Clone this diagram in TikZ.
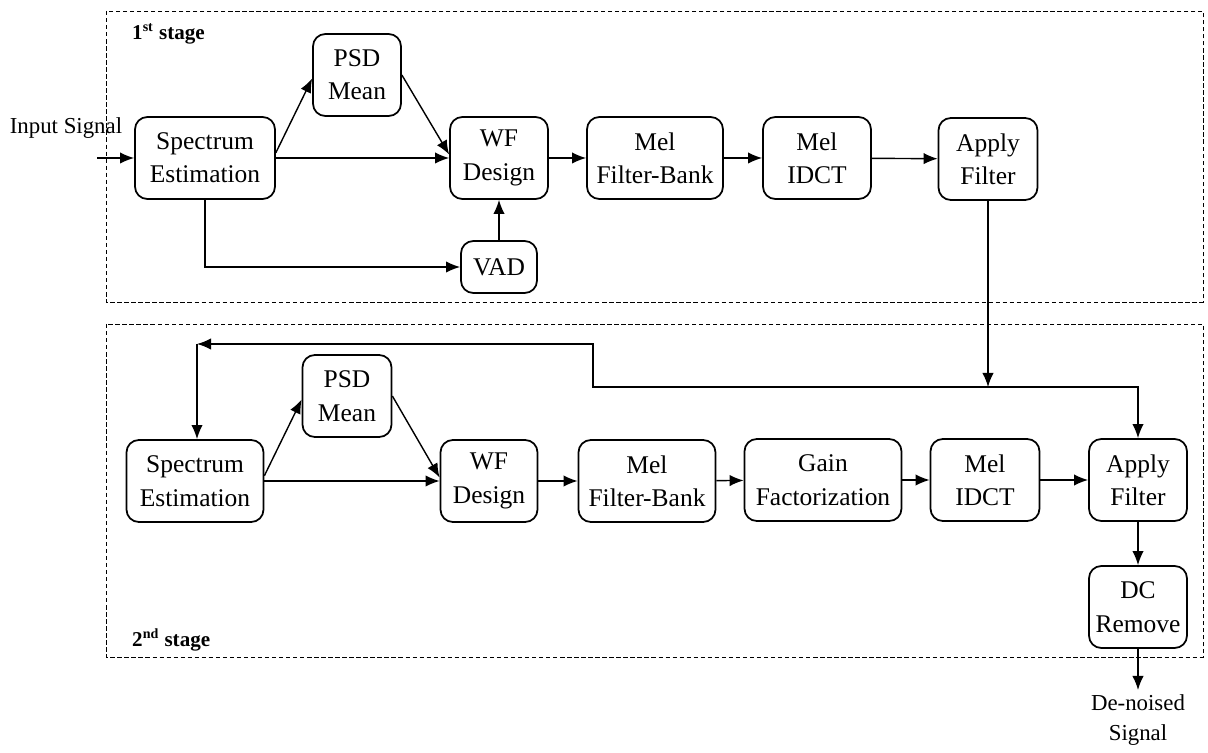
\documentclass[tikz,border=0pt]{standalone}
\usepackage{fontspec}
\setmainfont{Liberation Serif}
\usetikzlibrary{positioning,calc,arrows.meta}
\tikzset{
	box/.style={draw,line width=1pt,rounded corners=7pt,align=center,minimum height=1.64cm,inner sep=1pt,font=\fontsize{14.5}{19}\selectfont},
	stagebox/.style={draw,line width=0.4pt,dash pattern=on 2.5pt off 1.5pt},
	lbl/.style={align=center,font=\fontsize{13}{17}\selectfont},
	flow/.style={->,line width=0.8pt}
}

\begin{document}
\begin{tikzpicture}[x=0.02cm,y=-0.02cm,>={Latex[length=8pt,width=6.5pt]}]
	\useasboundingbox (0,0) rectangle (1208,753);
	% stage frames
	\draw[stagebox] (106,11) rectangle (1203,302);
	\draw[stagebox] (106,324) rectangle (1203,657);
	\node[anchor=west,font=\fontsize{12}{14}\selectfont\bfseries] (st1) at (126,34) {1\textsuperscript{st} stage};
	\node[anchor=west,font=\fontsize{12}{14}\selectfont\bfseries] (st2) at (126,640) {2\textsuperscript{nd} stage};
	
	% 1st stage
	\node[lbl] (insig) at (66,128) {Input Signal};
	\coordinate (in) at (97,158);
	\node[box,minimum width=2.8cm] (se1) at (205,158) {Spectrum\\Estimation};
	\node[box,minimum width=1.76cm] (psd1) at (357,75) {PSD\\Mean};
	\node[box,minimum width=1.96cm] (wf1) at (499,158) {WF\\Design};
	\node[box,minimum width=2.72cm] (mfb1) at (655,158) {Mel\\Filter-Bank};
	\node[box,minimum width=2.16cm] (idct1) at (817,158) {Mel\\IDCT};
	\node[box,minimum width=1.98cm] (af1) at (988,159) {Apply\\Filter};
	\node[box,minimum width=1.52cm,minimum height=1.04cm] (vad) at (499,267) {VAD};
	\draw[flow] (in) -- (se1);
	\draw[flow] (se1.east) -- (wf1.west);
	\draw[flow] ([yshift=3pt]se1.east) -- ([yshift=-2pt]psd1.west);
	\draw[flow] (psd1.east) -- ([yshift=2pt]wf1.west);
	\draw[flow] (se1.south) |- (vad.west);
	\draw[flow] (vad) -- (wf1);
	\draw[flow] (wf1) -- (mfb1);
	\draw[flow] (mfb1) -- (idct1);
	\draw[flow] (idct1) -- (af1);
	
	% 2nd stage
	\node[box,minimum width=2.74cm] (se2) at (195,481) {Spectrum\\Estimation};
	\node[box,minimum width=1.78cm] (psd2) at (347,396) {PSD\\Mean};
	\node[box,minimum width=1.94cm] (wf2) at (489,481) {WF\\Design};
	\node[box,minimum width=2.74cm] (mfb2) at (647,481) {Mel\\Filter-Bank};
	\node[box,minimum width=3.14cm] (gain) at (823,480) {Gain\\Factorization};
	\node[box,minimum width=2.18cm] (idct2) at (985,480) {Mel\\IDCT};
	\node[box,minimum width=1.96cm] (af2) at (1138,480) {Apply\\Filter};
	\node[box,minimum width=1.96cm] (dc) at (1138,607) {DC\\Remove};
	\node[lbl] (outsig) at (1138,720) {De-noised\\Signal};
	\coordinate (out) at (1138,690);
	\draw[flow] (se2.east) -- (wf2.west);
	\draw[flow] ([yshift=3pt]se2.east) -- ([yshift=-2pt]psd2.west);
	\draw[flow] (psd2.east) -- ([yshift=2pt]wf2.west);
	\draw[flow] (wf2) -- (mfb2);
	\draw[flow] (mfb2) -- (gain);
	\draw[flow] (gain) -- (idct2);
	\draw[flow] (idct2) -- (af2);
	\draw[flow] (af2) -- (dc);
	\draw[flow] (dc) -- (out);
	
	% feedback from 1st stage
	\coordinate (fb) at (988,387);
	\coordinate (fbk) at (593,344);
	\coordinate (fbc) at (197,344);
	\draw[flow] (af1) -- (fb);
	\draw[flow] (fb) -| (af2.north);
	\draw[flow] (fb) -| (fbk) -- (fbc);
	\draw[flow] (fbc) -- (fbc |- se2.north);
	
\end{tikzpicture}
\end{document}
